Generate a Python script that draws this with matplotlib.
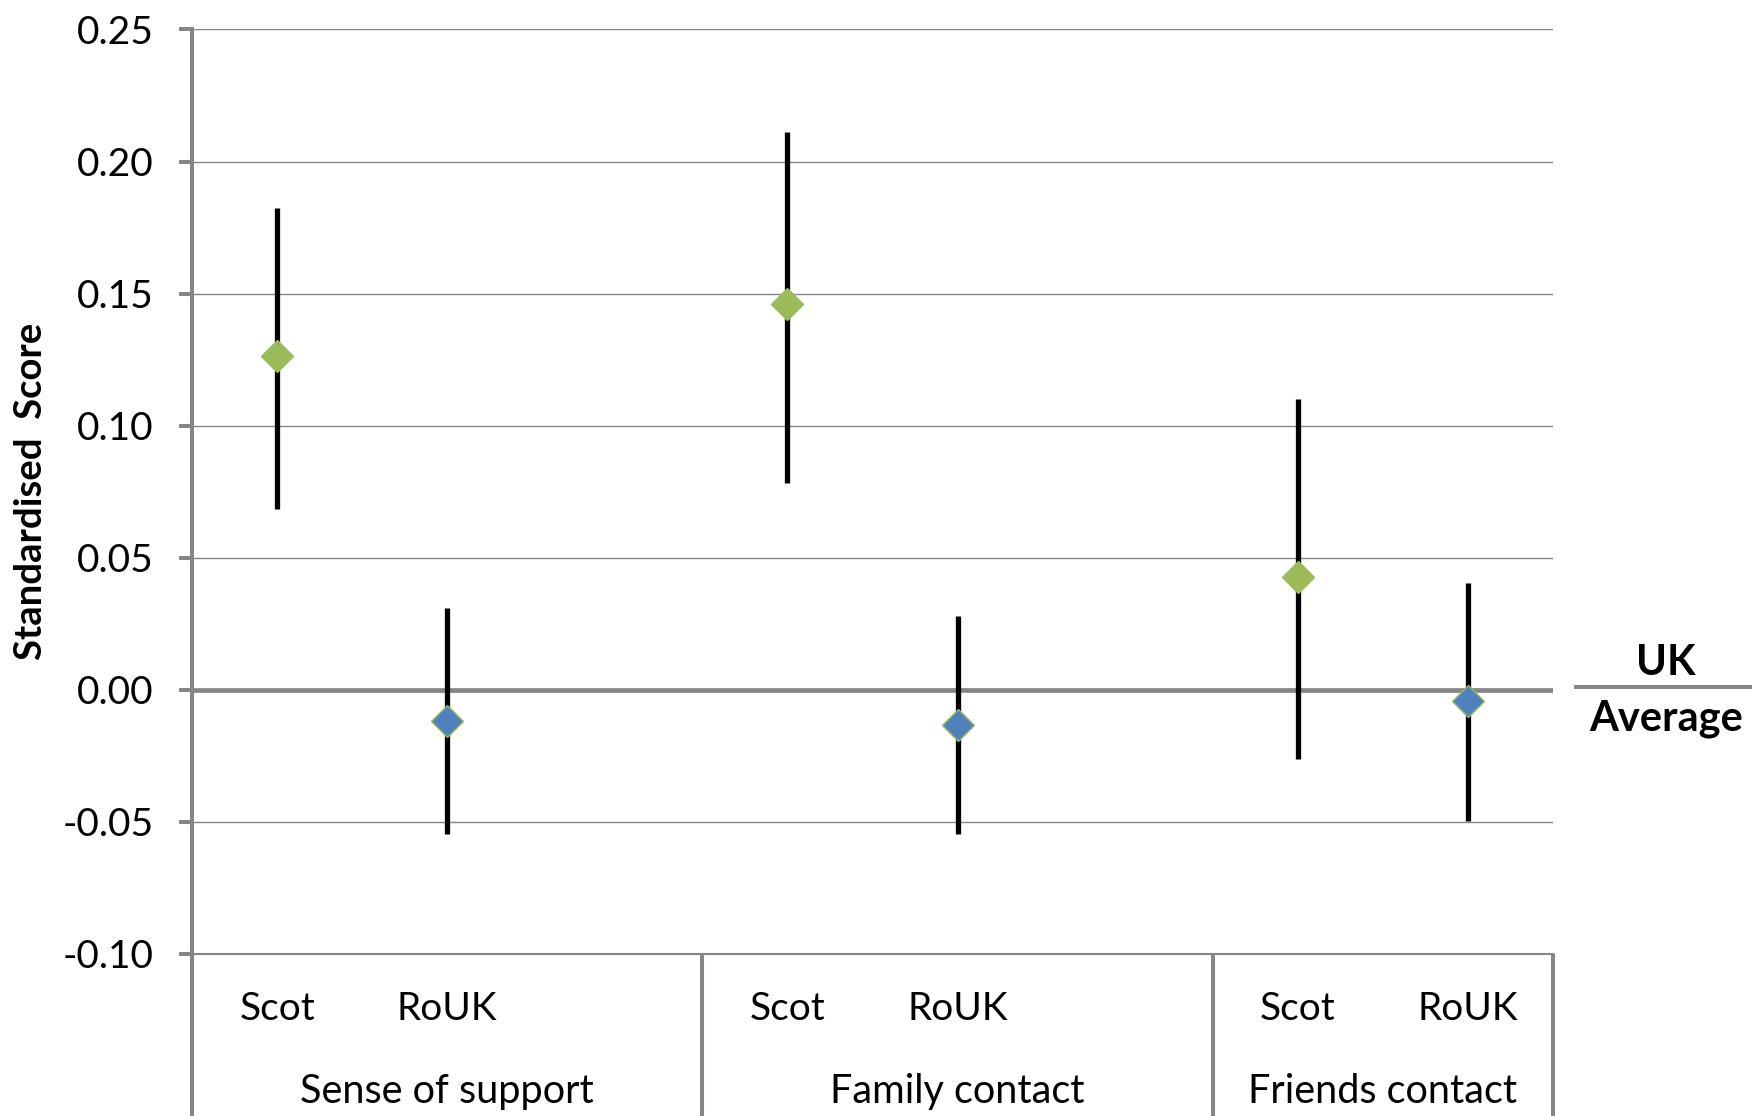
import numpy as np
import matplotlib.pyplot as plt

plt.rcParams['font.family'] = ['Lato', 'DejaVu Sans']

categories = ["Scot", "RoUK", "", "Scot", "RoUK", "", "Scot", "RoUK"]
groups = ["Sense of support", "Family contact", "Friends contact"]

scot_mid = [0.1265, 0.146, 0.0427]
scot_hi = [0.1823, 0.211, 0.110]
scot_lo = [0.0685, 0.0783, -0.0262]
rouk_mid = [-0.0118, -0.0135, -0.0042]
rouk_hi = [0.0309, 0.0279, 0.0406]
rouk_lo = [-0.0546, -0.0546, -0.0495]

grid_gray = '#868686'
green = '#9BBB59'
blue = '#4F81BD'

fig = plt.figure(figsize=(17.52, 11.16), dpi=100)
ax = fig.add_axes([0.1096, 0.1452, 0.8864 - 0.1096, 0.9736 - 0.1452])

scot_x = [i for i, c in enumerate(categories) if c == "Scot"]
rouk_x = [i for i, c in enumerate(categories) if c == "RoUK"]

for xs, mid, lo, hi, col in [(scot_x, scot_mid, scot_lo, scot_hi, green),
                             (rouk_x, rouk_mid, rouk_lo, rouk_hi, blue)]:
    mid = np.array(mid)
    yerr = [mid - np.array(lo), np.array(hi) - mid]
    ax.errorbar(xs, mid, yerr=yerr, fmt='none', ecolor='black',
                elinewidth=3.8, capsize=0, zorder=3)
    ax.plot(xs, mid, linestyle='none', marker='D', markersize=16,
            markerfacecolor=col, markeredgecolor=green, markeredgewidth=1,
            zorder=4)

ax.set_xlim(-0.5, len(categories) - 0.5)
ax.set_ylim(-0.10, 0.25)
yt = np.arange(-0.10, 0.2501, 0.05)
ax.set_yticks(yt)
ax.set_yticklabels([f"{v:.2f}" for v in yt])
ax.tick_params(axis='y', length=9.5, width=2.9, color=grid_gray,
               labelsize=28, pad=18, direction='out')
ax.set_xticks([])

ax.grid(axis='y', color=grid_gray, linewidth=1.0)
ax.set_axisbelow(True)
ax.axhline(0, color=grid_gray, linewidth=3.4, zorder=2)

for s in ['top', 'right']:
    ax.spines[s].set_visible(False)
ax.spines['left'].set_color(grid_gray)
ax.spines['left'].set_linewidth(2.9)
ax.spines['bottom'].set_color(grid_gray)
ax.spines['bottom'].set_linewidth(1.5)

ax.set_ylabel('Standardised  Score', fontsize=27.5, fontweight='bold')
ax.yaxis.set_label_coords(-0.106, 0.5)

# category table under the axis
trans = ax.get_xaxis_transform()
for b in [-0.5, 2.5, 5.5, 7.5]:
    ax.plot([b, b], [0, -0.2], transform=trans, color=grid_gray,
            linewidth=2.9, clip_on=False, solid_capstyle='butt')
for i, c in enumerate(categories):
    if c:
        ax.text(i, -0.0595, c, transform=trans, ha='center', va='center',
                fontsize=28)
group_centers = [1, 4, 6.5]
for gx, g in zip(group_centers, groups):
    ax.text(gx, -0.149, g, transform=trans, ha='center', va='center',
            fontsize=28.5)

# UK average marker on the right
fig.add_artist(plt.Line2D([0.8995, 1.0], [0.3844, 0.3844], color=grid_gray,
                          linewidth=2.9, transform=fig.transFigure))
fig.text(0.951, 1 - 663 / 1116, 'UK', ha='center', va='center',
         fontsize=30, fontweight='bold')
fig.text(0.951, 1 - 719 / 1116, 'Average', ha='center', va='center',
         fontsize=30, fontweight='bold')

fig.savefig('out.png', dpi=100)
